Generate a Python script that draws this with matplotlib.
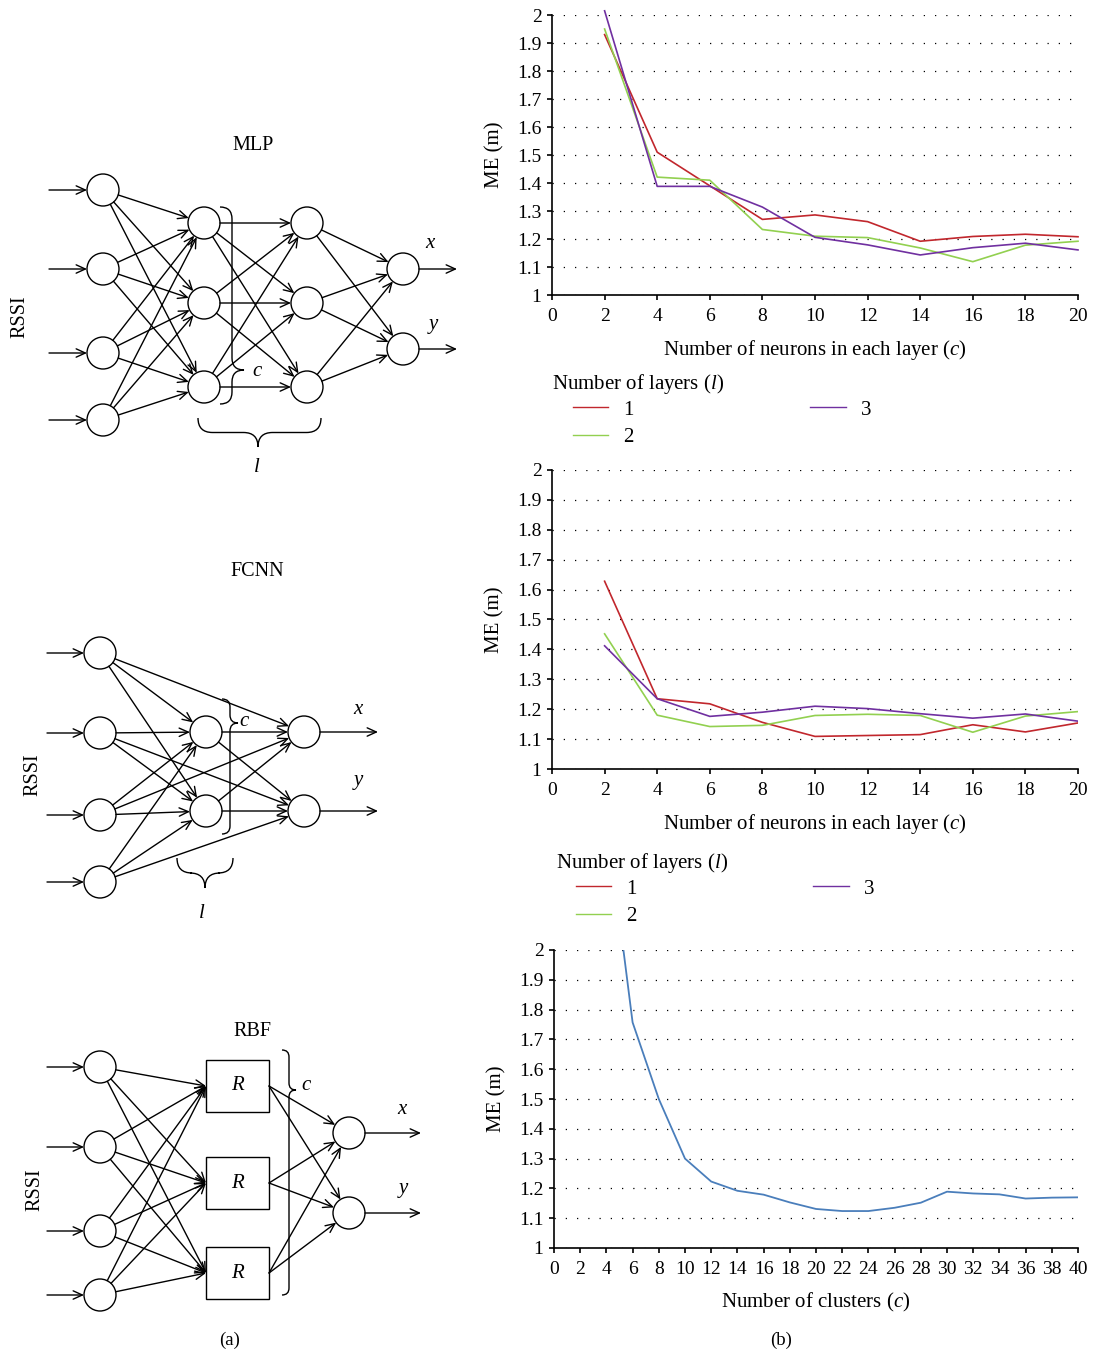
import numpy as np
import matplotlib
matplotlib.use('Agg')
import matplotlib.pyplot as plt
from matplotlib.patches import Circle, Rectangle, PathPatch
from matplotlib.path import Path
from matplotlib.lines import Line2D
from matplotlib.ticker import FuncFormatter

plt.rcParams['font.family'] = ['Liberation Serif', 'DejaVu Serif']
plt.rcParams['mathtext.fontset'] = 'custom'
plt.rcParams['mathtext.rm'] = 'Liberation Serif'
plt.rcParams['mathtext.it'] = 'Liberation Serif:italic'

# --- data (b) ---
neurons = [2, 4, 6, 8, 10, 12, 14, 16, 18, 20]
mlp_l1 = [1.93, 1.51, 1.39, 1.27, 1.286, 1.262, 1.192, 1.209, 1.217, 1.208]
mlp_l2 = [1.95, 1.421, 1.41, 1.234, 1.21, 1.205, 1.168, 1.119, 1.178, 1.192]
mlp_l3 = [2.015, 1.388, 1.388, 1.314, 1.206, 1.179, 1.143, 1.169, 1.185, 1.161]

fcnn_l1 = [1.628, 1.235, 1.218, 1.156, 1.109, 1.112, 1.115, 1.148, 1.124, 1.154]
fcnn_l2 = [1.452, 1.18, 1.142, 1.146, 1.179, 1.183, 1.179, 1.123, 1.177, 1.192]
fcnn_l3 = [1.412, 1.235, 1.176, 1.19, 1.21, 1.202, 1.185, 1.17, 1.184, 1.16]

clusters = [4, 6, 8, 10, 12, 14, 16, 18, 20, 22, 24, 26, 28, 30, 32, 34, 36, 38, 40]
rbf_me = [2.45, 1.757, 1.50, 1.30, 1.223, 1.192, 1.179, 1.153, 1.131, 1.124, 1.124,
          1.135, 1.152, 1.189, 1.183, 1.18, 1.166, 1.169, 1.17]

layer_labels = ['1', '2', '3']
layer_colors = ['#C1272D', '#92D050', '#7030A0']
rbf_color = '#4A7EBB'

# --- data (a): node positions of the diagrams (pixels) ---
mlp_in_y = [190, 269, 353, 420]
mlp_hid_y = [223, 303, 387]
mlp_out_y = [269, 349]
fcnn_in_y = [653, 733, 815, 882]
fcnn_hid_y = [732, 811]
fcnn_out_y = [732, 811]
rbf_in_y = [1067, 1147, 1231, 1295]
rbf_box_y = [(1060, 1112), (1157, 1209), (1247, 1299)]
rbf_out_y = [1133, 1213]

W, H = 1096, 1356
R = 16
fig = plt.figure(figsize=(W / 100, H / 100), dpi=100)

# ---------------- diagrams ----------------
axd = fig.add_axes([0, 0, 1, 1])
axd.set_xlim(0, W)
axd.set_ylim(H, 0)
axd.axis('off')


def arrow(p0, p1, r0=0, r1=0):
    p0 = np.array(p0, float)
    p1 = np.array(p1, float)
    d = (p1 - p0) / np.hypot(*(p1 - p0))
    a = p0 + d * r0
    b = p1 - d * r1
    axd.annotate('', xy=b, xytext=a,
                 arrowprops=dict(arrowstyle='->, head_length=0.55, head_width=0.25',
                                 lw=1.0, color='black', shrinkA=0, shrinkB=0,
                                 mutation_scale=12))


def node(x, y):
    axd.add_patch(Circle((x, y), R, fill=False, lw=1.0, ec='black'))


def vbrace(x0, y0, y1, ymid, w):
    xm = x0 + w / 2
    xt = x0 + w
    r = w / 2
    verts = [(x0, y0), (xm, y0), (xm, y0 + r),
             (xm, ymid - r), (xm, ymid), (xt, ymid),
             (xm, ymid), (xm, ymid + r),
             (xm, y1 - r), (xm, y1), (x0, y1)]
    codes = [Path.MOVETO, Path.CURVE3, Path.CURVE3,
             Path.LINETO, Path.CURVE3, Path.CURVE3,
             Path.CURVE3, Path.CURVE3,
             Path.LINETO, Path.CURVE3, Path.CURVE3]
    axd.add_patch(PathPatch(Path(verts, codes), fill=False, lw=1.0, ec='black'))


def hbrace(x0, x1, y0, xmid, h):
    ym = y0 + h / 2
    yt = y0 + h
    r = h / 2
    verts = [(x0, y0), (x0, ym), (x0 + r, ym),
             (xmid - r, ym), (xmid, ym), (xmid, yt),
             (xmid, ym), (xmid + r, ym),
             (x1 - r, ym), (x1, ym), (x1, y0)]
    codes = [Path.MOVETO, Path.CURVE3, Path.CURVE3,
             Path.LINETO, Path.CURVE3, Path.CURVE3,
             Path.CURVE3, Path.CURVE3,
             Path.LINETO, Path.CURVE3, Path.CURVE3]
    axd.add_patch(PathPatch(Path(verts, codes), fill=False, lw=1.0, ec='black'))


txt = dict(fontsize=14.5, ha='center', va='center')
itx = dict(fontsize=15, ha='center', va='center', style='italic')

# MLP
in_x, h1_x, h2_x, out_x = 103, 204, 307, 403
axd.text(253, 145, 'MLP', **txt)
axd.text(20, 317, 'RSSI', rotation=90, **txt)
for y in mlp_in_y:
    node(in_x, y)
    arrow((49, y), (in_x - R, y))
for x in (h1_x, h2_x):
    for y in mlp_hid_y:
        node(x, y)
for y in mlp_out_y:
    node(out_x, y)
    arrow((out_x + R, y), (457, y))
for ya in mlp_in_y:
    for yb in mlp_hid_y:
        arrow((in_x, ya), (h1_x, yb), R, R)
for ya in mlp_hid_y:
    for yb in mlp_hid_y:
        arrow((h1_x, ya), (h2_x, yb), R, R)
for ya in mlp_hid_y:
    for yb in mlp_out_y:
        arrow((h2_x, ya), (out_x, yb), R, R)
axd.text(430, 244, 'x', **itx)
axd.text(433, 325, 'y', **itx)
vbrace(220, 207, 404, 370, 24)
axd.text(257, 372, 'c', **itx)
hbrace(198, 321, 418, 258, 29)
axd.text(257, 467, 'l', **itx)

# FCNN
in_x, hid_x, out_x = 100, 206, 304
axd.text(257, 572, 'FCNN', **txt)
axd.text(33, 775, 'RSSI', rotation=90, **txt)
for y in fcnn_in_y:
    node(in_x, y)
    arrow((47, y), (in_x - R, y))
for y in fcnn_hid_y:
    node(hid_x, y)
for y in fcnn_out_y:
    node(out_x, y)
    arrow((out_x + R, y), (378, y))
for ya in fcnn_in_y:
    for yb in fcnn_hid_y:
        arrow((in_x, ya), (hid_x, yb), R, R)
for i, ya in enumerate(fcnn_in_y):
    arrow((in_x, ya), (out_x, fcnn_out_y[i % 2]), R, R)
for ya in fcnn_hid_y:
    for yb in fcnn_out_y:
        arrow((hid_x, ya), (out_x, yb), R, R)
axd.text(358, 709, 'x', **itx)
axd.text(358, 781, 'y', **itx)
vbrace(222, 699, 834, 723, 16)
axd.text(244, 721, 'c', **itx)
hbrace(177, 233, 858, 205, 30)
axd.text(202, 913, 'l', **itx)

# RBF
in_x, bx0, bx1, out_x = 100, 206, 269, 349
axd.text(252, 1031, 'RBF', **txt)
axd.text(35, 1190, 'RSSI', rotation=90, **txt)
for y in rbf_in_y:
    node(in_x, y)
    arrow((47, y), (in_x - R, y))
for (y0, y1) in rbf_box_y:
    axd.add_patch(Rectangle((bx0, y0), bx1 - bx0, y1 - y0, fill=False, lw=1.0, ec='black'))
    axd.text((bx0 + bx1) / 2, (y0 + y1) / 2, 'R', **itx)
for y in rbf_out_y:
    node(out_x, y)
    arrow((out_x + R, y), (421, y))
for ya in rbf_in_y:
    for (y0, y1) in rbf_box_y:
        cy = (y0 + y1) / 2
        p0 = np.array([in_x, ya], float)
        p1 = np.array([bx0, cy], float)
        d = (p1 - p0) / np.hypot(*(p1 - p0))
        arrow(p0 + d * R, p1)
for (y0, y1) in rbf_box_y:
    cy = (y0 + y1) / 2
    for yb in rbf_out_y:
        arrow((bx1, cy), (out_x, yb), 0, R)
axd.text(402, 1110, 'x', **itx)
axd.text(403, 1189, 'y', **itx)
vbrace(282, 1050, 1295, 1090, 14)
axd.text(306, 1086, 'c', **itx)

fig.text(230 / W, 1 - 1340 / H, '(a)', fontsize=13.5, ha='center', va='center')
fig.text(781 / W, 1 - 1340 / H, '(b)', fontsize=13.5, ha='center', va='center')

# ---------------- charts ----------------
def px_axes(left, right, top, bottom):
    return fig.add_axes([left / W, 1 - bottom / H, (right - left) / W, (bottom - top) / H])


def style(ax, xmax, xstep, xlabel):
    ax.set_xlim(0, xmax)
    ax.set_ylim(1, 2)
    ax.set_xticks(np.arange(0, xmax + 1, xstep))
    ax.set_yticks(np.round(np.arange(1, 2.001, 0.1), 1))
    ax.yaxis.set_major_formatter(FuncFormatter(lambda v, p: f'{v:g}'))
    for s in ('top', 'right'):
        ax.spines[s].set_visible(False)
    for s in ('left', 'bottom'):
        ax.spines[s].set_linewidth(1.2)
    ax.tick_params(direction='out', length=3.5, width=1.2, labelsize=14)
    ax.tick_params(axis='y', pad=4)
    ax.tick_params(axis='x', pad=6)
    ax.yaxis.grid(True, linestyle=(0, (1, 8)), color='black', lw=0.9)
    ax.set_axisbelow(True)
    ax.set_ylabel('ME (m)', fontsize=15, labelpad=9)
    ax.set_xlabel(xlabel, fontsize=15, labelpad=9)
    ax.patch.set_alpha(0)


def layer_legend(title_y, row_y, x_title, x_row):
    fig.text(x_title / W, 1 - title_y / H, 'Number of layers ($l$)', fontsize=15,
             ha='left', va='center')
    handles = [Line2D([], [], color=c, lw=1.0) for c in layer_colors]
    fig.legend(handles, layer_labels, ncol=2, loc='upper left',
               bbox_to_anchor=(x_row / W, 1 - row_y / H), frameon=False,
               fontsize=15, handlelength=1.7, handletextpad=0.7,
               columnspacing=8.5, labelspacing=0.38, borderaxespad=0, borderpad=0)


neur_label = 'Number of neurons in each layer ($c$)'

ax1 = px_axes(552, 1078, 15, 295)
for vals, c in zip([mlp_l1, mlp_l2, mlp_l3], layer_colors):
    ax1.plot(neurons, vals, color=c, lw=1.2, clip_on=False)
style(ax1, 20, 2, neur_label)
layer_legend(384, 400, 552, 573)

ax2 = px_axes(552, 1078, 470, 769)
for vals, c in zip([fcnn_l1, fcnn_l2, fcnn_l3], layer_colors):
    ax2.plot(neurons, vals, color=c, lw=1.2)
style(ax2, 20, 2, neur_label)
layer_legend(863, 879, 556, 576)

ax3 = px_axes(554, 1078, 950, 1248)
ax3.plot(clusters, rbf_me, color=rbf_color, lw=1.3)
style(ax3, 40, 2, 'Number of clusters ($c$)')

fig.savefig('out.png', dpi=100)
